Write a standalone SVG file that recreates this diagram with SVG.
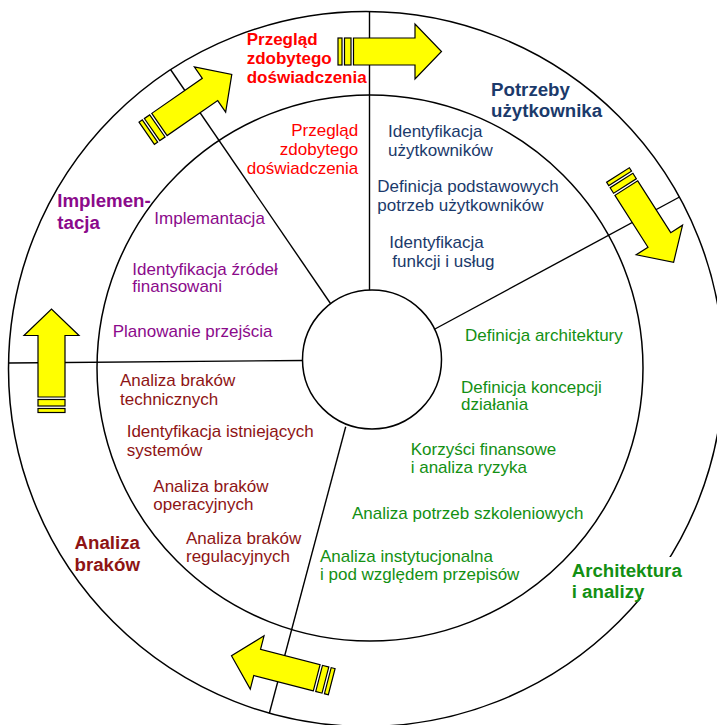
<svg xmlns="http://www.w3.org/2000/svg" xmlns:xlink="http://www.w3.org/1999/xlink" width="717" height="725" viewBox="0 0 717 725">
<style>
.ring{fill:none;stroke:#000;stroke-width:1.5}
.div{stroke:#000;stroke-width:1.4;fill:none}
.arr{fill:#FFFF00;stroke:#000;stroke-width:1.2;stroke-linejoin:miter}
text{font-family:"Liberation Sans",Arial,Helvetica,sans-serif;font-size:17px}
.b{font-weight:bold;font-size:18.7px}
.bt{font-weight:bold;font-size:17px}
.red{fill:#FF0000}
.blue{fill:#1B3A6B}
.purple{fill:#8B0A8B}
.maroon{fill:#8E1414}
.green{fill:#139013}
</style>
<defs>
<g id="arrow">
<rect class="arr" x="0" y="-13.5" width="4" height="27"/>
<rect class="arr" x="6.5" y="-13.5" width="6.5" height="27"/>
<polygon class="arr" points="15.5,-13.5 77,-13.5 77,-27.5 103.5,0 77,27.5 77,13.5 15.5,13.5"/>
</g>
</defs>
<rect width="717" height="725" fill="#fff"/>
<g id="rings">
<circle class="ring" cx="366" cy="369" r="357.5"/>
<circle class="ring" cx="370" cy="368" r="273"/>
</g>
<g id="connectors">
<line class="div" x1="369.5" y1="11.5" x2="369.5" y2="290"/>
<line class="div" x1="170.5" y1="69.5" x2="330.5" y2="303.5"/>
<line class="div" x1="434" y1="329.5" x2="679.5" y2="197"/>
<line class="div" x1="9" y1="363" x2="303" y2="360.5"/>
<line class="div" x1="345.7" y1="426.7" x2="269.3" y2="713.5"/>
<use xlink:href="#arrow" transform="translate(338,51.5)"/>
<use xlink:href="#arrow" transform="translate(618,175) rotate(57.5)"/>
<use xlink:href="#arrow" transform="translate(331.7,681.7) rotate(194.5)"/>
<use xlink:href="#arrow" transform="translate(51.5,412.5) rotate(-90)"/>
<use xlink:href="#arrow" transform="translate(146.7,133.3) rotate(-34.7)"/>
</g>
<g id="center">
<circle class="ring" cx="372" cy="359.5" r="69.5" fill="#fff"/>
</g>
<g id="label-przeglad">
<text class="bt red" x="246.7" y="45">Przegląd</text>
<text class="bt red" x="246.7" y="64.3">zdobytego</text>
<text class="bt red" x="246.7" y="83.3">doświadczenia</text>
</g>
<g id="label-potrzeby">
<text class="b blue" x="491" y="96">Potrzeby</text>
<text class="b blue" x="491" y="117.3">użytkownika</text>
</g>
<g id="label-architektura">
<rect x="568" y="557" width="122" height="41" fill="#fff"/>
<text class="b green" x="571.7" y="577.3">Architektura</text>
<text class="b green" x="571.7" y="598.3">i analizy</text>
</g>
<g id="label-analiza">
<text class="b maroon" x="74.5" y="549">Analiza</text>
<text class="b maroon" x="74.5" y="570.7">braków</text>
</g>
<g id="label-implementacja">
<text class="b purple" x="57.3" y="207.3">Implemen-</text>
<text class="b purple" x="57.3" y="228.5">tacja</text>
</g>
<g id="sector-przeglad">
<text class="red" x="358.3" y="136" text-anchor="end">Przegląd</text>
<text class="red" x="358.3" y="155" text-anchor="end">zdobytego</text>
<text class="red" x="358.3" y="174" text-anchor="end">doświadczenia</text>
</g>
<g id="sector-potrzeby">
<text class="blue" x="388" y="137.3">Identyfikacja</text>
<text class="blue" x="388" y="155.7">użytkowników</text>
<text class="blue" x="377.3" y="192.3">Definicja podstawowych</text>
<text class="blue" x="377.3" y="210.7">potrzeb użytkowników</text>
<text class="blue" x="389.3" y="248.3">Identyfikacja</text>
<text class="blue" x="392.3" y="266.7">funkcji i usług</text>
</g>
<g id="sector-architektura">
<text class="green" x="465" y="340.7">Definicja architektury</text>
<text class="green" x="461" y="392.7">Definicja koncepcji</text>
<text class="green" x="461" y="410">działania</text>
<text class="green" x="410.7" y="455">Korzyści finansowe</text>
<text class="green" x="410.7" y="473.3">i analiza ryzyka</text>
<text class="green" x="352" y="519.3">Analiza potrzeb szkoleniowych</text>
<text class="green" x="320" y="562.3">Analiza instytucjonalna</text>
<text class="green" x="320" y="580">i pod względem przepisów</text>
</g>
<g id="sector-analiza">
<text class="maroon" x="120" y="386">Analiza braków</text>
<text class="maroon" x="120" y="405">technicznych</text>
<text class="maroon" x="126.7" y="437.3">Identyfikacja istniejących</text>
<text class="maroon" x="126.7" y="456">systemów</text>
<text class="maroon" x="153.3" y="491.7">Analiza braków</text>
<text class="maroon" x="153.3" y="510">operacyjnych</text>
<text class="maroon" x="186" y="544.3">Analiza braków</text>
<text class="maroon" x="186" y="562.3">regulacyjnych</text>
</g>
<g id="sector-implementacja">
<text class="purple" x="154.3" y="224.3">Implemantacja</text>
<text class="purple" x="132.3" y="275">Identyfikacja źródeł</text>
<text class="purple" x="132.3" y="292.3">finansowani</text>
<text class="purple" x="112.7" y="337.3">Planowanie przejścia</text>
</g>
</svg>
